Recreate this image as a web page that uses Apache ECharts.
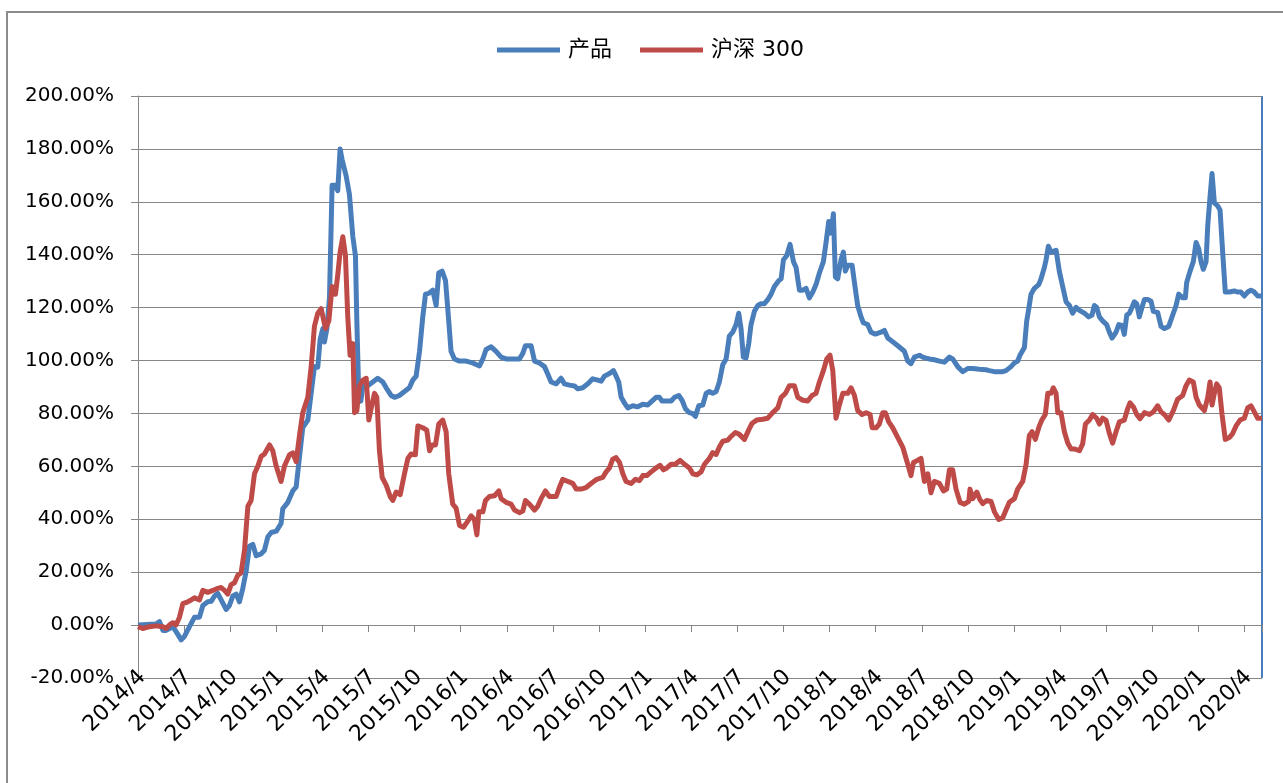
<!DOCTYPE html>
<html>
<head>
<meta charset="utf-8">
<title>产品 / 沪深 300</title>
<script src="https://cdn.jsdelivr.net/npm/echarts/dist/echarts.min.js"></script>
<style>
html, body { margin: 0; padding: 0; background: #fff; }
#net_value_chart { width: 1283px; height: 783px; }
</style>
</head>
<body>
<div id="net_value_chart"></div>
<script>
// 横轴刻度标签（每季度一个，自 2014/4 起）
var xTickLabels = ['2014/4','2014/7','2014/10','2015/1','2015/4','2015/7','2015/10','2016/1','2016/4',
	'2016/7','2016/10','2017/1','2017/4','2017/7','2017/10','2018/1','2018/4','2018/7','2018/10',
	'2019/1','2019/4','2019/7','2019/10','2020/1','2020/4'];

// 产品 累计收益(%)，横坐标为自 2014/4 起的月数
var prodMonths = [0,1.18,1.40,1.62,1.83,2.05,2.27,2.59,2.81,3.03,3.35,3.68,4.00,4.22,4.54,4.76,4.98,5.19,5.41,5.74,
	5.95,6.17,6.39,6.60,6.82,7.04,7.25,7.47,7.69,8.01,8.23,8.45,8.67,9.00,9.31,9.42,9.75,10.07,10.29,10.72,
	11.05,11.48,11.70,11.85,12.03,12.13,12.29,12.46,12.63,12.85,13.00,13.15,13.28,13.54,13.76,13.98,14.15,14.24,14.37,14.50,
	14.63,14.95,15.28,15.60,15.93,16.15,16.47,16.69,17.01,17.34,17.66,17.88,18.10,18.32,18.53,18.71,18.92,19.18,19.40,19.57,
	19.79,20.01,20.22,20.37,20.59,20.92,21.35,21.78,22.00,22.22,22.44,22.65,22.98,23.30,23.63,23.95,24.82,25.04,25.21,25.58,
	25.80,26.12,26.45,26.67,26.88,27.21,27.53,27.75,28.07,28.40,28.62,28.94,29.27,29.59,29.92,30.14,30.35,30.68,30.94,31.11,
	31.28,31.44,31.65,31.87,32.20,32.52,32.85,33.17,33.39,33.71,33.93,34.10,34.36,34.69,34.91,35.19,35.41,35.62,35.88,36.10,
	36.27,36.49,36.75,36.97,37.18,37.40,37.62,37.83,38.05,38.27,38.48,38.70,38.92,39.09,39.24,39.39,39.57,39.74,39.89,40.11,
	40.33,40.54,40.76,40.98,41.20,41.41,41.69,41.85,42.00,42.21,42.43,42.65,42.82,43.04,43.26,43.47,43.69,43.91,44.12,44.34,
	44.60,44.77,44.95,45.10,45.25,45.38,45.53,45.75,45.90,46.03,46.18,46.47,46.62,46.83,47.05,47.20,47.48,47.70,47.98,48.35,
	48.57,48.79,49.11,49.44,49.87,50.09,50.30,50.52,50.85,51.06,51.28,51.50,51.82,52.15,52.47,52.80,53.01,53.34,53.67,53.99,
	54.32,54.75,55.18,55.40,55.73,56.27,56.48,56.81,57.03,57.24,57.39,57.68,57.83,57.96,58.11,58.33,58.61,58.76,58.98,59.09,
	59.24,59.41,59.74,59.95,60.17,60.39,60.61,60.82,61.04,61.26,61.58,61.86,62.08,62.23,62.38,62.56,62.77,63.03,63.21,63.38,
	63.64,63.82,64.03,64.18,64.34,64.51,64.68,64.83,64.99,65.16,65.33,65.49,65.70,65.92,66.07,66.35,66.57,66.79,67.07,67.33,
	67.55,67.72,67.98,68.15,68.24,68.46,68.67,68.85,69.02,69.17,69.32,69.50,69.61,69.76,69.89,70.04,70.26,70.41,70.58,70.75,
	71.01,71.34,71.56,71.77,71.99,72.21,72.42,72.64,72.86,73.14];
var prodValues = [0,0.4,1.3,-2.0,-2.0,-1.3,-0.6,-3.5,-5.6,-4.2,-0.6,3.0,3.0,7.4,8.8,9.0,11.0,12.0,9.5,5.9,
	7.4,11.0,11.7,8.8,13.9,20.4,29.8,30.5,26.2,26.9,28.3,33.4,35.0,35.5,38.4,44.0,46.4,50.7,52.2,74.6,
	77.5,97.7,97.5,108.0,112.1,107.0,112.0,123.7,166.3,166.3,164.2,180.0,176.0,169.9,162.7,146.8,139.6,115.0,86.1,84.7,
	90.5,90.5,91.9,93.3,91.9,89.7,86.8,86.1,86.8,88.3,89.7,92.6,94.1,103.5,116.5,125.1,125.4,126.6,120.8,133.1,
	133.8,130.2,115.0,103.5,100.6,99.8,99.8,99.1,98.5,98.0,100.6,104.2,105.2,103.5,101.3,100.6,100.6,102.7,105.6,105.6,
	99.8,99.1,97.7,94.8,91.9,91.2,93.3,91.2,90.7,90.4,89.3,89.7,91.2,93.1,92.6,92.2,94.1,95.1,96.2,94.1,
	91.9,86.1,84.0,82.1,82.9,82.5,83.5,83.2,84.4,86.1,86.1,84.7,84.7,84.7,86.1,86.8,84.9,81.8,80.3,79.9,
	78.9,82.9,83.2,87.6,88.3,87.6,88.3,91.9,98.4,100.6,109.2,110.7,113.6,117.9,112.1,101.3,101.0,106.4,113.6,118.6,
	120.8,121.5,121.5,123.0,125.1,128.0,130.2,130.9,138.1,139.6,143.9,137.4,135.2,126.6,126.6,127.3,123.7,125.9,128.7,133.1,
	137.4,144.6,152.6,148.2,155.5,131.6,130.9,138.1,141.0,133.8,136.0,136.0,129.5,120.8,116.5,114.3,113.6,110.7,110.0,110.7,
	111.4,108.5,107.1,105.6,103.5,99.8,98.8,101.3,102.0,101.3,100.9,100.6,100.3,99.8,99.4,101.3,100.6,97.7,95.8,97.0,
	97.0,96.7,96.5,96.2,95.8,95.8,96.2,97.7,99.1,99.8,102.0,104.9,115.0,119.4,125.1,127.3,128.7,130.9,135.2,138.1,
	143.2,141.0,141.7,133.8,128.0,122.2,120.8,117.9,120.1,119.0,117.9,116.5,117.2,120.8,120.1,116.5,115.0,113.6,110.7,108.5,
	110.7,113.6,113.3,109.9,117.2,117.9,120.1,122.2,121.5,116.5,120.1,123.1,123.1,122.4,118.6,118.2,112.9,112.1,112.9,117.2,
	120.8,125.1,123.7,123.7,129.5,133.8,137.4,144.6,142.3,137.4,134.5,137.4,151.1,162.0,170.7,159.6,158.4,156.9,141.0,125.9,
	125.9,126.3,125.9,125.9,124.4,125.9,126.6,125.9,124.4,124.4];

// 沪深 300 累计收益(%)
var hsMonths = [0,0.31,0.75,1.18,1.62,1.83,2.05,2.27,2.48,2.70,2.92,3.24,3.46,3.68,4.00,4.22,4.54,4.87,5.19,5.41,
	5.63,5.84,6.06,6.28,6.50,6.71,6.93,7.15,7.36,7.58,7.80,8.01,8.23,8.56,8.77,8.99,9.31,9.53,9.86,10.07,
	10.29,10.51,10.72,11.05,11.27,11.48,11.70,11.92,12.20,12.42,12.63,12.85,13.00,13.15,13.33,13.50,13.65,13.80,13.98,14.09,
	14.24,14.41,14.63,14.85,15.02,15.17,15.39,15.54,15.71,15.89,16.15,16.41,16.58,16.80,17.06,17.34,17.56,17.77,18.05,18.21,
	18.53,18.79,18.97,19.14,19.36,19.57,19.83,20.05,20.22,20.48,20.70,20.92,21.18,21.35,21.68,21.89,22.05,22.18,22.44,22.61,
	22.87,23.20,23.48,23.63,23.95,24.28,24.50,24.82,25.04,25.21,25.47,25.80,26.01,26.23,26.51,26.77,27.21,27.42,27.64,27.97,
	28.29,28.51,28.83,29.16,29.48,29.85,30.24,30.46,30.68,30.89,31.11,31.33,31.55,31.76,32.09,32.37,32.63,32.85,33.11,33.39,
	33.71,33.97,34.19,34.41,34.69,34.97,35.27,35.56,35.88,36.10,36.36,36.64,36.86,37.18,37.40,37.62,37.83,38.05,38.38,38.59,
	38.87,39.13,39.46,39.74,39.96,40.26,40.65,40.98,41.30,41.63,41.85,42.13,42.39,42.71,42.93,43.26,43.58,43.86,44.12,44.34,
	44.60,44.82,45.03,45.21,45.42,45.64,45.86,46.18,46.40,46.62,46.83,47.12,47.38,47.64,47.77,48.03,48.24,48.46,48.63,48.85,
	49.11,49.44,49.76,50.09,50.30,50.46,50.74,50.95,51.17,51.39,51.60,51.82,52.15,52.41,52.62,52.80,53.01,53.23,53.49,53.77,
	54.06,54.14,54.32,54.58,54.79,54.97,55.23,55.51,55.73,56.01,56.27,56.48,56.70,57.03,57.24,57.57,57.79,58.00,58.18,58.39,
	58.65,58.83,59.04,59.20,59.41,59.56,59.74,59.85,60.06,60.28,60.50,60.71,60.93,61.26,61.47,61.65,61.91,62.12,62.38,62.56,
	62.77,62.99,63.21,63.42,63.64,63.86,64.18,64.40,64.55,64.77,64.99,65.20,65.49,65.81,66.07,66.35,66.57,66.79,67.07,67.37,
	67.65,67.98,68.20,68.41,68.67,68.85,69.06,69.39,69.61,69.76,69.89,70.04,70.19,70.36,70.54,70.75,71.01,71.23,71.45,71.71,
	71.99,72.21,72.42,72.64,72.86,73.14];
var hsValues = [-0.6,-1.3,-0.6,-0.3,-0.6,-1.3,0.1,0.9,0.1,3.0,8.1,8.8,9.5,10.3,9.5,13.1,12.4,13.1,13.9,14.2,
	13.1,11.7,15.3,16.0,18.9,19.7,28.3,44.9,47.1,57.2,60.1,63.7,64.7,68.1,65.9,60.1,54.3,60.1,64.4,65.1,
	61.8,71.7,80.3,86.1,97.7,112.9,117.9,119.6,112.1,115.0,128.0,125.1,132.4,141.0,146.8,139.6,116.5,102.0,106.4,80.3,
	81.0,90.5,92.6,93.3,77.5,81.9,87.6,86.1,65.9,55.8,52.9,48.6,47.1,50.3,49.3,57.2,63.0,64.7,64.4,75.3,
	74.6,73.7,65.9,68.1,68.1,76.0,77.5,73.1,57.2,45.7,44.2,37.7,37.0,38.4,41.3,39.9,34.1,42.8,42.8,47.1,
	48.6,48.9,50.7,47.8,46.4,45.7,43.5,42.5,43.1,47.1,45.7,43.5,44.9,47.8,50.7,48.6,48.6,52.0,55.1,54.3,
	53.6,51.4,51.4,52.0,53.5,55.1,55.8,57.9,59.4,62.7,63.3,61.5,57.2,54.3,53.5,55.1,54.6,56.5,56.5,57.9,
	59.4,60.4,58.7,59.4,60.8,60.8,62.3,60.8,59.4,57.2,56.8,57.9,60.8,63.0,65.2,64.5,67.3,69.5,69.9,71.3,
	72.8,72.1,70.2,73.8,76.3,77.5,77.8,78.2,80.3,82.1,86.1,87.6,90.5,90.5,86.1,85.0,84.7,86.8,87.6,91.9,
	96.2,100.6,102.0,96.2,78.2,83.2,87.6,87.6,89.7,86.8,81.1,79.6,80.3,79.6,74.6,74.6,76.0,80.3,80.3,76.8,
	74.6,70.9,67.3,60.8,56.5,61.5,62.3,63.0,54.3,57.2,50.0,54.3,53.6,50.7,51.4,58.7,58.7,51.4,46.4,45.7,
	46.8,51.4,47.8,50.3,47.4,45.9,47.1,46.7,42.8,39.9,40.6,43.5,46.4,47.8,51.4,54.3,60.8,71.7,73.1,70.2,
	75.3,77.7,79.6,87.6,87.6,89.7,87.6,80.3,80.3,73.1,68.8,66.6,66.6,65.9,68.5,76.0,77.5,79.6,78.2,76.0,
	78.2,77.5,72.4,68.8,73.1,76.8,77.5,81.8,84.0,82.5,79.6,78.0,80.3,79.6,80.6,82.9,80.6,79.6,77.5,81.1,
	85.4,86.8,90.5,92.6,91.9,86.1,83.2,81.1,86.1,91.9,83.2,87.6,91.2,89.7,79.6,70.2,70.9,72.4,75.3,77.5,
	78.2,82.1,82.9,80.6,78.2,78.2];

var FONT = "'DejaVu Sans', 'Noto Sans CJK SC', sans-serif";

var netValue = {
	/**
	 * 初始化
	 */
	init : function(){
		var myChart = echarts.init(document.getElementById('net_value_chart'));
		myChart.setOption(netValue.get_options());
		window.addEventListener('resize', function(){
			myChart.resize();
		});
	},

	// 月数与收益两个数组拼成 [x, y]
	zip : function(xs, ys){
		var out = [];
		for (var i = 0; i < xs.length; i++) {
			out.push([xs[i], ys[i]]);
		}
		return out;
	},

	get_options : function(){
		var option = {
			animation : false,
			backgroundColor : '#fff',
			textStyle : { fontFamily : FONT },
			legend : {
				left : 492,
				top : 34,
				icon : 'rect',
				itemWidth : 63,
				itemHeight : 5,
				itemGap : 28,
				textStyle : {
					fontSize : 22,
					color : '#000',
					fontFamily : FONT,
					padding : [0, 0, 0, 3]
				},
				data : ['产品', '沪深 300']
			},
			grid : {
				left : 138,
				right : 21,
				top : 96,
				bottom : 105,
				containLabel : false,
				outerBoundsMode : 'none'
			},
			xAxis : {
				type : 'value',
				min : 0,
				max : 73.14,
				interval : 3,
				axisLine : { onZero : true, lineStyle : { color : '#868686', width : 1 } },
				axisTick : { show : true, length : 7, lineStyle : { color : '#868686' } },
				axisLabel : {
					rotate : 45,
					margin : 0,
					fontSize : 22,
					color : '#000',
					fontFamily : FONT,
					padding : [0, -6, 0, 0],
					formatter : function(v){
						var i = Math.round(v / 3);
						if (Math.abs(v - i * 3) > 0.001) return '';
						return xTickLabels[i] || '';
					}
				},
				splitLine : { show : false }
			},
			yAxis : {
				type : 'value',
				min : -20,
				max : 200,
				interval : 20,
				axisLine : { show : true, lineStyle : { color : '#868686', width : 1 } },
				axisTick : { show : true, length : 7, lineStyle : { color : '#868686' } },
				axisLabel : {
					margin : 24,
					fontSize : 20,
					color : '#000',
					fontFamily : FONT,
					formatter : function(v){ return v.toFixed(2) + '%'; }
				},
				splitLine : { lineStyle : { color : '#868686', width : 1 } }
			},
			graphic : [
				{
					type : 'rect',
					shape : { x : 7, y : 12, width : 1400, height : 900 },
					style : { fill : 'none', stroke : '#8c8c8c', lineWidth : 2 },
					silent : true
				},
				{
					type : 'line',
					shape : { x1 : 1262, y1 : 96, x2 : 1262, y2 : 678 },
					style : { stroke : '#4a7ebb', lineWidth : 2 },
					silent : true
				}
			],
			series : [
				{
					name : '产品',
					type : 'line',
					showSymbol : false,
					symbol : 'none',
					lineStyle : { color : '#4a7ebb', width : 5, join : 'round' },
					itemStyle : { color : '#4a7ebb' },
					data : netValue.zip(prodMonths, prodValues)
				},
				{
					name : '沪深 300',
					type : 'line',
					showSymbol : false,
					symbol : 'none',
					lineStyle : { color : '#be4b48', width : 5, join : 'round' },
					itemStyle : { color : '#be4b48' },
					data : netValue.zip(hsMonths, hsValues)
				}
			]
		};
		return option;
	}
};

netValue.init();
</script>
</body>
</html>
